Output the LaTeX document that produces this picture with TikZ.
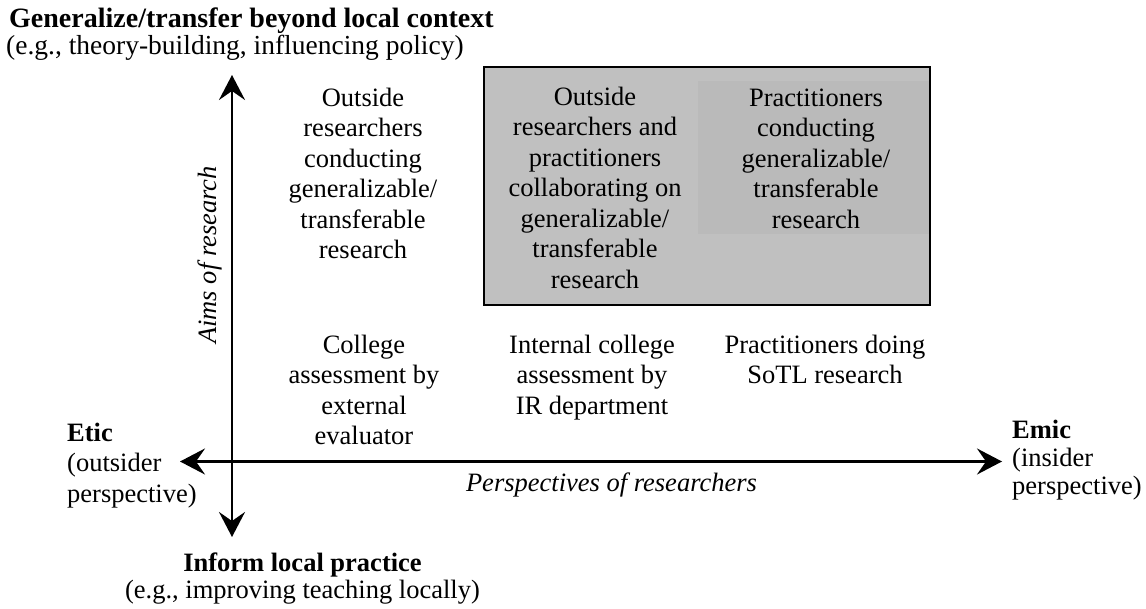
\documentclass[tikz,border=0pt]{standalone}
\usepackage{fontspec}
\setmainfont{Liberation Serif}
\usetikzlibrary{arrows.meta}

\definecolor{boxgray}{HTML}{C0C0C0}
\definecolor{innergray}{HTML}{BABABA}

\begin{document}
\begin{tikzpicture}[x=1pt,y=-1pt,
  txt/.style={font=\fontsize{26.5}{30.5}\selectfont, inner sep=0pt},
  cell/.style={txt, align=center, anchor=north},
  axis/.style={line width=2.6pt, {Stealth[length=25pt,width=26pt,inset=9pt]}-{Stealth[length=25pt,width=26pt,inset=9pt]}},
  region/.style={draw=black, line width=2pt, fill=boxgray}
]
\useasboundingbox (0,0) rectangle (1146,609);

% shaded region: collaborative and practitioner generalizable research
\filldraw[region] (484,67) rectangle (930,305);
\fill[innergray] (698,81) rectangle (929,234);
\draw[line width=2pt] (484,67) rectangle (930,305);

% axes
\coordinate (vT) at (232,75);
\coordinate (vB) at (232,537);
\coordinate (hL) at (180,461.5);
\coordinate (hR) at (1002,461.5);
\draw[axis] (vT) -- (vB);
\draw[axis] (hL) -- (hR);

% vertical axis ends
\node[txt, anchor=base west, font=\fontsize{28}{30.5}\selectfont\bfseries] (gen) at (9,28)
  {Generalize/transfer beyond local context};
\node[txt, anchor=base west, font=\fontsize{27.5}{30.5}\selectfont] (gensub) at (6,55)
  {(e.g., theory-building, influencing policy)};
\node[txt, anchor=base, font=\fontsize{26.5}{30.5}\selectfont\bfseries] (inform) at (302.5,571.7)
  {Inform local practice};
\node[txt, anchor=base] (informsub) at (302.5,598)
  {(e.g., improving teaching locally)};

% horizontal axis ends
\node[txt, align=left, anchor=north west] (etic) at (67,419.6)
  {\strut\textbf{Etic}\\(outsider\\perspective)};
\node[txt, align=left, anchor=north west, font=\fontsize{26.5}{28}\selectfont] (emic) at (1012,418.4)
  {\strut\textbf{Emic}\\(insider\\perspective)};

% axis titles
\node[txt, anchor=base, rotate=90, font=\fontsize{26.5}{30.5}\selectfont\itshape] (aims) at (216.7,255)
  {Aims of research};
\node[txt, anchor=base, font=\fontsize{26.5}{30.5}\selectfont\itshape] (persp) at (611.5,491.7)
  {Perspectives of researchers};

% upper row
\node[cell] (outside) at (363,84.65)
  {\strut Outside\\researchers\\conducting\\generalizable/\\transferable\\research};
\node[cell] (collab) at (595,83.65)
  {\strut Outside\\researchers and\\practitioners\\collaborating on\\generalizable/\\transferable\\research};
\node[cell] (pract) at (816,84.65)
  {\strut Practitioners\\conducting\\generalizable/\\transferable\\research};

% lower row
\node[cell] (college) at (364,331.65)
  {\strut College\\assessment by\\external\\evaluator};
\node[cell] (internal) at (592,331.65)
  {\strut Internal college\\assessment by\\IR department};
\node[cell] (sotl) at (825,331.65)
  {\strut Practitioners doing\\SoTL research};
\end{tikzpicture}
\end{document}
